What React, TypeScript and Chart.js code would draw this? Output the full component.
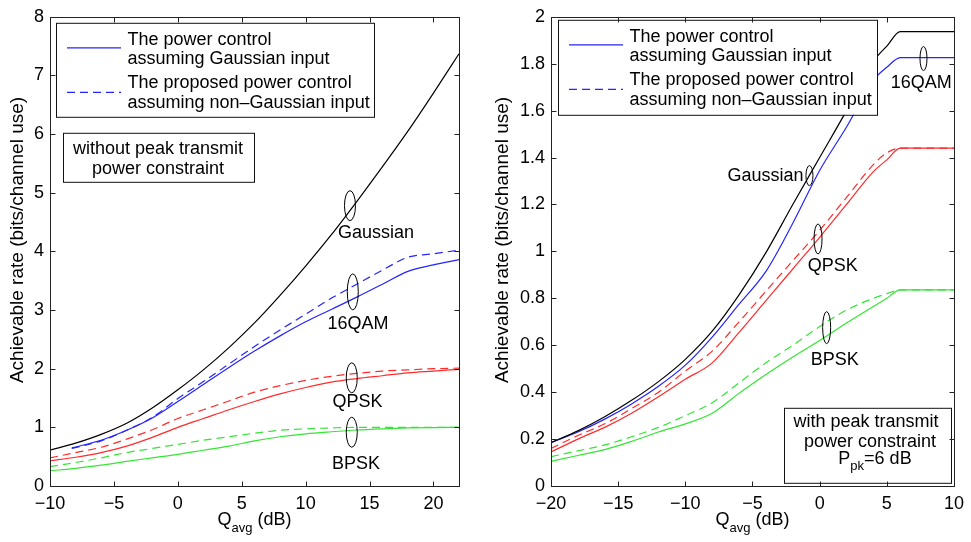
import React, { useEffect, useRef } from "react";
import { Chart, registerables } from "chart.js";

Chart.register(...registerables);

const FONT = '"Liberation Sans", Arial, Helvetica, sans-serif';
const BLUE = "#2424ff";
const RED = "#ff2b2b";
const GREEN = "#33e633";
const BLACK = "#000000";

// ---------- Left panel: without peak transmit power constraint ----------
const leftQ = [-10, -8, -6, -4, -2, 0, 2, 4, 6, 8, 10, 12, 14, 16, 18, 20, 22];
const leftGaussian = [0.61, 0.73, 0.88, 1.07, 1.33, 1.64, 1.98, 2.36, 2.78, 3.25, 3.75, 4.28, 4.85, 5.44, 6.05, 6.7, 7.37];
const leftQ16 = [-8.3, -6, -4, -2, 0, 2, 4, 6, 8, 10, 12, 14, 16, 18, 20, 22];
const left16QAMGauss = [0.65, 0.78, 0.95, 1.16, 1.44, 1.73, 2.02, 2.3, 2.56, 2.8, 3.01, 3.22, 3.44, 3.66, 3.77, 3.86];
const left16QAMProp = [0.64, 0.77, 0.95, 1.17, 1.49, 1.78, 2.08, 2.38, 2.66, 2.93, 3.2, 3.44, 3.68, 3.9, 3.96, 4.02];
const leftQPSKGauss = [0.43, 0.49, 0.57, 0.68, 0.83, 1.0, 1.15, 1.3, 1.44, 1.57, 1.68, 1.77, 1.83, 1.88, 1.93, 1.96, 1.99];
const leftQPSKProp = [0.48, 0.57, 0.66, 0.8, 0.96, 1.15, 1.3, 1.45, 1.6, 1.71, 1.8, 1.87, 1.92, 1.96, 1.98, 2.0, 2.01];
const leftBPSKGauss = [0.26, 0.3, 0.355, 0.42, 0.48, 0.54, 0.61, 0.68, 0.77, 0.84, 0.89, 0.925, 0.955, 0.975, 0.99, 0.997, 1.0];
const leftBPSKProp = [0.33, 0.4, 0.48, 0.57, 0.64, 0.71, 0.78, 0.84, 0.9, 0.95, 0.975, 0.99, 1.0, 1.0, 1.0, 1.0, 1.0];
const leftXTicks = [-10, -5, 0, 5, 10, 15, 20];
const leftYTicks = [0, 1, 2, 3, 4, 5, 6, 7, 8];

// ---------- Right panel: with peak transmit power constraint ----------
const rightQ = [-20, -18, -16, -14, -12, -10, -8, -6, -4, -2, 0, 2, 4, 5, 6, 8, 10];
const rightGaussian = [0.185, 0.235, 0.295, 0.365, 0.445, 0.54, 0.66, 0.815, 0.995, 1.2, 1.4, 1.6, 1.81, 1.875, 1.937, 1.937, 1.937];
const right16QAMGauss = [0.185, 0.23, 0.285, 0.35, 0.425, 0.515, 0.635, 0.775, 0.915, 1.12, 1.345, 1.53, 1.73, 1.785, 1.826, 1.826, 1.826];
const rightQPSKGauss = [0.145, 0.2, 0.25, 0.31, 0.38, 0.455, 0.525, 0.655, 0.79, 0.925, 1.06, 1.2, 1.34, 1.39, 1.44, 1.44, 1.44];
const rightQPSKProp = [0.16, 0.215, 0.265, 0.33, 0.4, 0.49, 0.575, 0.7, 0.83, 0.96, 1.09, 1.23, 1.37, 1.42, 1.44, 1.44, 1.44];
const rightBPSKGauss = [0.105, 0.13, 0.155, 0.19, 0.23, 0.265, 0.31, 0.395, 0.475, 0.55, 0.62, 0.695, 0.765, 0.8, 0.836, 0.836, 0.836];
const rightBPSKProp = [0.125, 0.15, 0.175, 0.21, 0.25, 0.3, 0.355, 0.44, 0.525, 0.6, 0.68, 0.75, 0.8, 0.82, 0.836, 0.836, 0.836];
const rightXTicks = [-20, -15, -10, -5, 0, 5, 10];
const rightYTicks = [0, 0.2, 0.4, 0.6, 0.8, 1, 1.2, 1.4, 1.6, 1.8, 2];

const LEGEND_LINES = [
  "The power control",
  "assuming Gaussian input",
  "The proposed power control",
  "assuming non\u2013Gaussian input",
];
const Y_TITLE = "Achievable rate (bits/channel use)";

type Series = { x: number[]; y: number[]; color: string; dash?: boolean };
type Ell = { x: number; y: number; rx: number; ry: number };
type Lbl = { text: string; x: number; y: number; align?: CanvasTextAlign };
type Panel = {
  series: Series[];
  xMin: number; xMax: number; yMin: number; yMax: number;
  xTicks: number[]; yTicks: number[];
  yAxisWidth: number; padRight: number;
  ellipses: Ell[]; labels: Lbl[];
  legend: { dx: number; dy: number; w: number; h: number };
  note: { dx: number; dy: number; w: number; h: number; lines: { parts: { t: string; sub?: boolean }[]; dx: number; dy: number }[] };
};

const fmt = (v: number) => {
  const s = String(Math.round(v * 100) / 100);
  return s.replace("-", "\u2212");
};

function drawParts(ctx: CanvasRenderingContext2D, parts: { t: string; sub?: boolean }[], cx: number, cy: number, size: number) {
  const subSize = Math.round(size * 0.72);
  let total = 0;
  const widths = parts.map((p) => {
    ctx.font = `${p.sub ? subSize : size}px ${FONT}`;
    const w = ctx.measureText(p.t).width;
    total += w;
    return w;
  });
  let x = cx - total / 2;
  ctx.textAlign = "left";
  ctx.textBaseline = "middle";
  parts.forEach((p, i) => {
    ctx.font = `${p.sub ? subSize : size}px ${FONT}`;
    ctx.fillText(p.t, x, p.sub ? cy + size * 0.45 : cy);
    x += widths[i];
  });
}

function makePlugin(p: Panel) {
  return {
    id: "panelDecor",
    afterDatasetsDraw(chart: any) {
      const ctx: CanvasRenderingContext2D = chart.ctx;
      const xs = chart.scales.x;
      const ys = chart.scales.y;
      const area = chart.chartArea;
      ctx.save();
      ctx.strokeStyle = BLACK;
      ctx.fillStyle = BLACK;
      ctx.lineWidth = 1;
      p.ellipses.forEach((e) => {
        ctx.beginPath();
        ctx.ellipse(xs.getPixelForValue(e.x), ys.getPixelForValue(e.y), e.rx, e.ry, 0, 0, Math.PI * 2);
        ctx.stroke();
      });
      ctx.font = `18px ${FONT}`;
      ctx.textBaseline = "middle";
      p.labels.forEach((l) => {
        ctx.textAlign = l.align || "center";
        ctx.fillText(l.text, xs.getPixelForValue(l.x), ys.getPixelForValue(l.y));
      });
      const L = p.legend;
      const lx = area.left + L.dx;
      const ly = area.top + L.dy;
      ctx.fillStyle = "#ffffff";
      ctx.fillRect(lx, ly, L.w, L.h);
      ctx.strokeStyle = "#111";
      ctx.strokeRect(lx + 0.5, ly + 0.5, L.w, L.h);
      ctx.strokeStyle = BLUE;
      ctx.lineWidth = 1.2;
      ctx.beginPath();
      ctx.moveTo(lx + 11, ly + 25);
      ctx.lineTo(lx + 65, ly + 25);
      ctx.stroke();
      ctx.setLineDash([8, 5]);
      ctx.beginPath();
      ctx.moveTo(lx + 11, ly + 69.5);
      ctx.lineTo(lx + 65, ly + 69.5);
      ctx.stroke();
      ctx.setLineDash([]);
      ctx.fillStyle = BLACK;
      ctx.font = `18px ${FONT}`;
      ctx.textAlign = "left";
      ctx.textBaseline = "middle";
      const rows = [17, 36, 60, 80.5];
      LEGEND_LINES.forEach((t, i) => ctx.fillText(t, lx + 71.5, ly + rows[i]));
      const N = p.note;
      const nx = area.left + N.dx;
      const ny = area.top + N.dy;
      ctx.fillStyle = "#ffffff";
      ctx.fillRect(nx, ny, N.w, N.h);
      ctx.strokeStyle = "#111";
      ctx.lineWidth = 1;
      ctx.strokeRect(nx + 0.5, ny + 0.5, N.w, N.h);
      ctx.fillStyle = BLACK;
      N.lines.forEach((ln) => drawParts(ctx, ln.parts, nx + ln.dx, ny + ln.dy, 18));
      ctx.restore();
    },
    afterDraw(chart: any) {
      const ctx: CanvasRenderingContext2D = chart.ctx;
      const xs = chart.scales.x;
      const ys = chart.scales.y;
      const a = chart.chartArea;
      ctx.save();
      ctx.strokeStyle = "#222";
      ctx.lineWidth = 1;
      const L = Math.round(a.left) + 0.5;
      const R = Math.round(a.right) + 0.5;
      const T = Math.round(a.top) + 0.5;
      const B = Math.round(a.bottom) + 0.5;
      ctx.strokeRect(L, T, R - L, B - T);
      const tl = 5;
      ctx.beginPath();
      p.xTicks.forEach((v) => {
        const px = Math.round(xs.getPixelForValue(v)) + 0.5;
        ctx.moveTo(px, B); ctx.lineTo(px, B - tl);
        ctx.moveTo(px, T); ctx.lineTo(px, T + tl);
      });
      p.yTicks.forEach((v) => {
        const py = Math.round(ys.getPixelForValue(v)) + 0.5;
        ctx.moveTo(L, py); ctx.lineTo(L + tl, py);
        ctx.moveTo(R, py); ctx.lineTo(R - tl, py);
      });
      ctx.stroke();
      ctx.fillStyle = BLACK;
      ctx.font = `19px ${FONT}`;
      ctx.textAlign = "center";
      ctx.textBaseline = "middle";
      ctx.translate(18, 240);
      ctx.rotate(-Math.PI / 2);
      ctx.fillText(Y_TITLE, 0, 0);
      ctx.setTransform(1, 0, 0, 1, 0, 0);
      drawParts(ctx, [{ t: "Q" }, { t: "avg", sub: true }, { t: " (dB)" }], (a.left + a.right) / 2, 520, 18);
      ctx.restore();
    },
  };
}

function buildConfig(p: Panel): any {
  const tickFont = { family: FONT, size: 18 };
  return {
    type: "line",
    data: {
      datasets: p.series.map((s) => ({
        data: s.x.map((x, i) => ({ x, y: s.y[i] })),
        borderColor: s.color,
        borderWidth: 1.2,
        borderDash: s.dash ? [8, 5] : [],
        pointRadius: 0,
        fill: false,
        cubicInterpolationMode: "monotone",
      })),
    },
    options: {
      responsive: false,
      animation: false,
      devicePixelRatio: 1,
      layout: { padding: { left: 0, top: 11, right: p.padRight, bottom: 0 } },
      plugins: { legend: { display: false }, tooltip: { enabled: false }, title: { display: false } },
      events: [],
      scales: {
        x: {
          type: "linear",
          min: p.xMin,
          max: p.xMax,
          afterBuildTicks: (s: any) => { s.ticks = p.xTicks.map((v) => ({ value: v })); },
          afterFit: (s: any) => { s.height = 56; },
          grid: { display: false, drawTicks: false },
          border: { display: false },
          ticks: { font: tickFont, color: "#000", padding: 7, maxRotation: 0, autoSkip: false, callback: (v: number) => fmt(v) },
        },
        y: {
          type: "linear",
          min: p.yMin,
          max: p.yMax,
          afterBuildTicks: (s: any) => { s.ticks = p.yTicks.map((v) => ({ value: v })); },
          afterFit: (s: any) => { s.width = p.yAxisWidth; },
          grid: { display: false, drawTicks: false },
          border: { display: false },
          ticks: { font: tickFont, color: "#000", padding: 6, autoSkip: false, callback: (v: number) => fmt(v) },
        },
      },
    },
    plugins: [makePlugin(p)],
  };
}

const leftPanel: Panel = {
  series: [
    { x: leftQ, y: leftGaussian, color: BLACK },
    { x: leftQ16, y: left16QAMGauss, color: BLUE },
    { x: leftQ16, y: left16QAMProp, color: BLUE, dash: true },
    { x: leftQ, y: leftQPSKGauss, color: RED },
    { x: leftQ, y: leftQPSKProp, color: RED, dash: true },
    { x: leftQ, y: leftBPSKGauss, color: GREEN },
    { x: leftQ, y: leftBPSKProp, color: GREEN, dash: true },
  ],
  xMin: -10, xMax: 22, yMin: 0, yMax: 8,
  xTicks: leftXTicks, yTicks: leftYTicks,
  yAxisWidth: 50, padRight: 26,
  ellipses: [
    { x: 13.47, y: 4.78, rx: 5.5, ry: 15 },
    { x: 13.69, y: 3.31, rx: 5.5, ry: 18 },
    { x: 13.61, y: 1.845, rx: 5.5, ry: 15 },
    { x: 13.61, y: 0.917, rx: 5.5, ry: 15 },
  ],
  labels: [
    { text: "Gaussian", x: 15.5, y: 4.32 },
    { text: "16QAM", x: 14.1, y: 2.76 },
    { text: "QPSK", x: 14.05, y: 1.44 },
    { text: "BPSK", x: 13.94, y: 0.37 },
  ],
  legend: { dx: 6, dy: 6, w: 318, h: 94 },
  note: {
    dx: 13, dy: 116, w: 191, h: 49,
    lines: [
      { parts: [{ t: "without peak transmit" }], dx: 95, dy: 16 },
      { parts: [{ t: "power constraint" }], dx: 95, dy: 36.5 },
    ],
  },
};

const rightPanel: Panel = {
  series: [
    { x: rightQ, y: rightGaussian, color: BLACK },
    { x: rightQ, y: right16QAMGauss, color: BLUE },
    { x: rightQ, y: rightQPSKGauss, color: RED },
    { x: rightQ, y: rightQPSKProp, color: RED, dash: true },
    { x: rightQ, y: rightBPSKGauss, color: GREEN },
    { x: rightQ, y: rightBPSKProp, color: GREEN, dash: true },
  ],
  xMin: -20, xMax: 10, yMin: 0, yMax: 2,
  xTicks: rightXTicks, yTicks: rightYTicks,
  yAxisWidth: 66, padRight: 11,
  ellipses: [
    { x: 7.73, y: 1.822, rx: 3.5, ry: 12 },
    { x: -0.76, y: 1.323, rx: 3.5, ry: 10 },
    { x: -0.12, y: 1.053, rx: 4, ry: 15 },
    { x: 0.52, y: 0.675, rx: 4, ry: 16 },
  ],
  labels: [
    { text: "16QAM", x: 7.56, y: 1.717 },
    { text: "Gaussian", x: -1.2, y: 1.323, align: "right" },
    { text: "QPSK", x: 0.97, y: 0.938 },
    { text: "BPSK", x: 1.13, y: 0.538 },
  ],
  legend: { dx: 7, dy: 3, w: 319, h: 95 },
  note: {
    dx: 233, dy: 391, w: 167, h: 75,
    lines: [
      { parts: [{ t: "with peak transmit" }], dx: 82, dy: 14.5 },
      { parts: [{ t: "power constraint" }], dx: 86, dy: 34.5 },
      { parts: [{ t: "P" }, { t: "pk", sub: true }, { t: "=6 dB" }], dx: 91, dy: 51 },
    ],
  },
};

function PanelChart({ panel, width, height }: { panel: Panel; width: number; height: number }) {
  const ref = useRef<HTMLCanvasElement | null>(null);
  useEffect(() => {
    if (!ref.current) return;
    const chart = new Chart(ref.current, buildConfig(panel));
    return () => chart.destroy();
  }, [panel]);
  return <canvas ref={ref} width={width} height={height} style={{ width, height, display: "block" }} />;
}

export default function App() {
  return (
    <div style={{ position: "fixed", left: 0, top: 0, width: 971, height: 542, background: "#fff", display: "flex" }}>
      <PanelChart panel={leftPanel} width={485} height={542} />
      <PanelChart panel={rightPanel} width={486} height={542} />
    </div>
  );
}
